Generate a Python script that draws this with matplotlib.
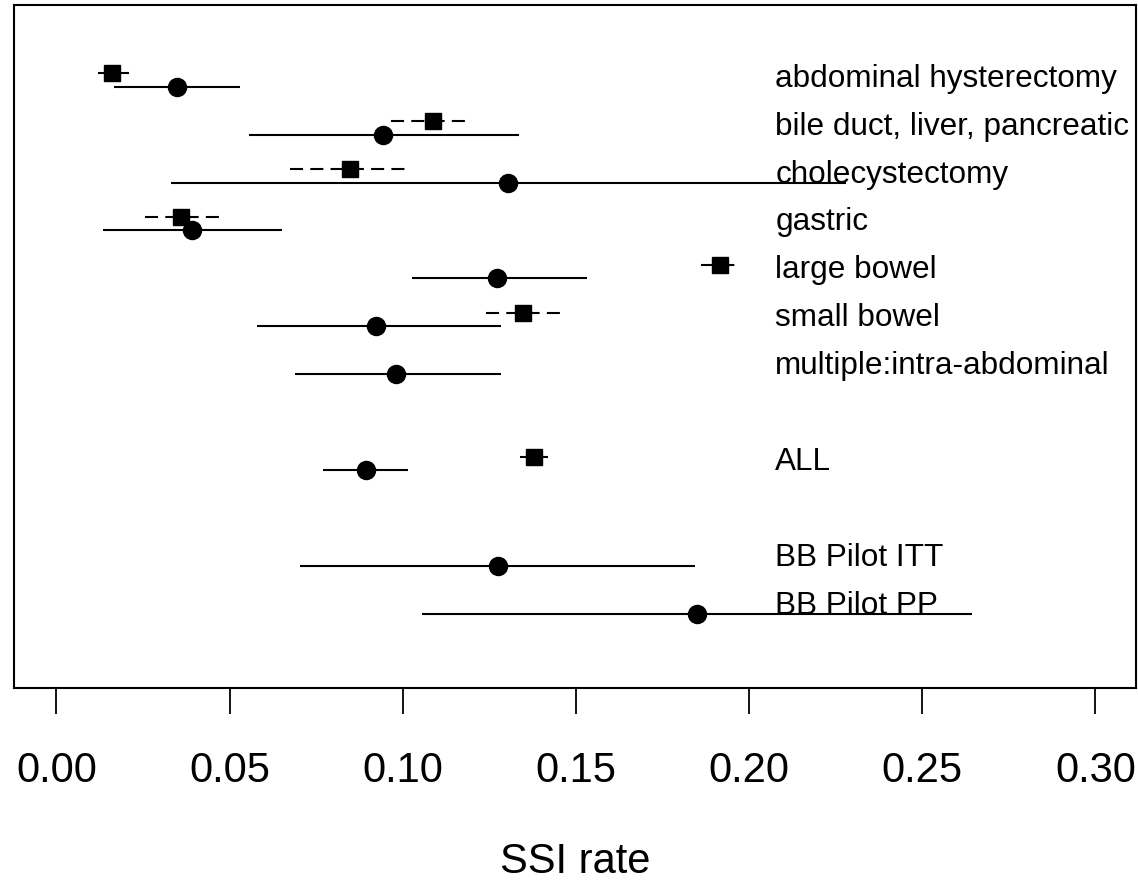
import numpy as np
import matplotlib
matplotlib.use("Agg")
import matplotlib.pyplot as plt

plt.rcParams['font.family'] = ['Liberation Sans', 'DejaVu Sans']
plt.rcParams['lines.scale_dashes'] = False

categories = ["abdominal hysterectomy", "bile duct, liver, pancreatic",
              "cholecystectomy", "gastric", "large bowel", "small bowel",
              "multiple:intra-abdominal", "ALL", "BB Pilot ITT", "BB Pilot PP"]

# series drawn with circles and solid CI lines
circle_est = [0.0347, 0.0944, 0.1304, 0.0392, 0.1272, 0.0922, 0.0980, 0.0893, 0.1274, 0.1849]
circle_lo = [0.0166, 0.0556, 0.0331, 0.0135, 0.1027, 0.0579, 0.0689, 0.0770, 0.0704, 0.1056]
circle_hi = [0.0531, 0.1335, 0.2280, 0.0650, 0.1532, 0.1283, 0.1283, 0.1016, 0.1845, 0.2643]

# series drawn with squares and dashed CI lines
nan = np.nan
square_est = [0.0161, 0.1088, 0.0848, 0.0359, 0.1916, 0.1347, nan, 0.1379, nan, nan]
square_lo = [0.0121, 0.0965, 0.0674, 0.0256, 0.1860, 0.1240, nan, 0.1338, nan, nan]
square_hi = [0.0209, 0.1182, 0.1008, 0.0470, 0.1959, 0.1457, nan, 0.1420, nan, nan]

xticks = [0.00, 0.05, 0.10, 0.15, 0.20, 0.25, 0.30]
xtick_labels = ["0.00", "0.05", "0.10", "0.15", "0.20", "0.25", "0.30"]
xlabel = "SSI rate"

# layout: rows with gaps before ALL and the pilot rows
rows = np.array([0, 1, 2, 3, 4, 5, 6, 8, 10, 11], dtype=float)
sq_off = -0.28

W, H = 1138, 882
fig = plt.figure(figsize=(W / 100, H / 100), dpi=100)
ax = fig.add_axes([14 / W, 1 - 688 / H, (1136 - 14) / W, (688 - 5) / H])

ax.set_xlim(-0.01227, 0.3117)
ax.set_ylim(12.553, -1.706)

# squares / dashed
for y, e, lo, hi in zip(rows, square_est, square_lo, square_hi):
    if np.isnan(e):
        continue
    ax.plot([lo, hi], [y + sq_off, y + sq_off], color='black', lw=1.5,
            linestyle=(0, (9.4, 5.2)), solid_capstyle='butt', dash_capstyle='butt', zorder=2)
    ax.plot([e], [y + sq_off], marker='s', markersize=12, color='black', zorder=3)

# circles / solid
for y, e, lo, hi in zip(rows, circle_est, circle_lo, circle_hi):
    ax.plot([lo, hi], [y, y], color='black', lw=1.5, solid_capstyle='butt', zorder=2)
    ax.plot([e], [y], marker='o', markersize=13, color='black', zorder=3)

for y, name in zip(rows, categories):
    ax.text(0.2075, y, name, fontsize=22.7, ha='left', va='baseline', color='black', zorder=1)

ax.set_yticks([])
ax.set_xticks(xticks)
ax.set_xticklabels(xtick_labels, fontsize=30)
ax.tick_params(axis='x', direction='out', length=18.7, width=1.3, pad=27, colors='black')
for s in ax.spines.values():
    s.set_linewidth(1.5)
    s.set_color('black')

fig.text((14 + 1136) / 2 / W, 1 - 873 / H, xlabel, fontsize=30, ha='center', va='baseline')

fig.savefig("out.png", dpi=100)
